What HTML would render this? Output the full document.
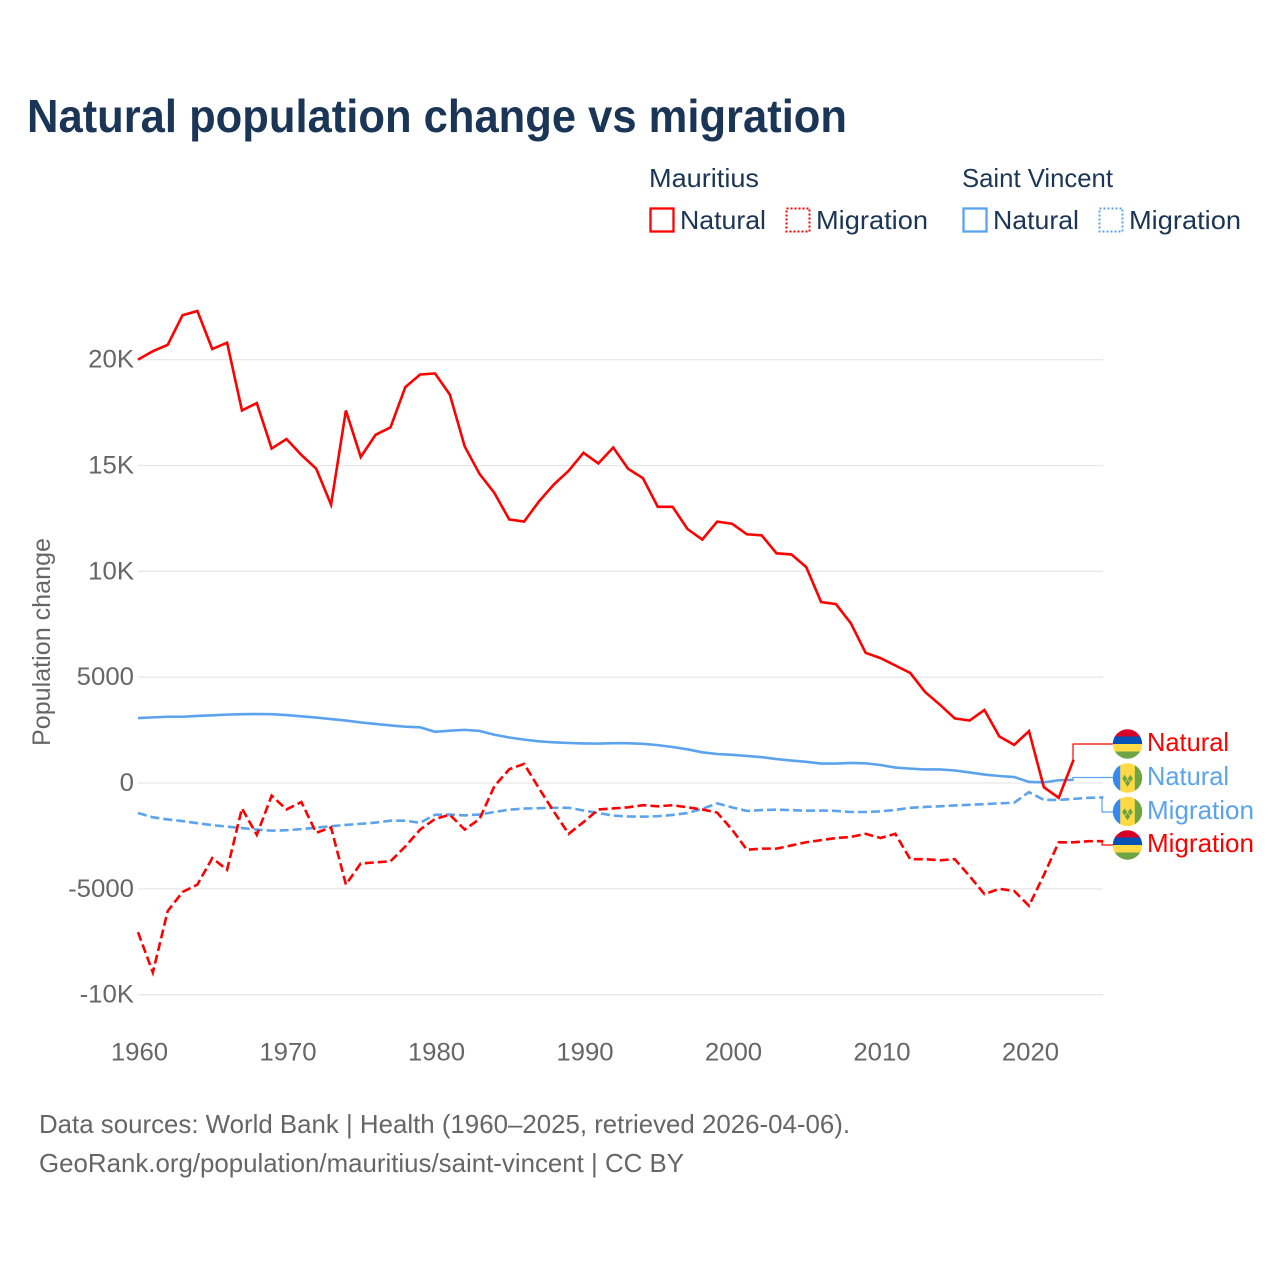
<!DOCTYPE html>
<html lang="en">
<head>
<meta charset="utf-8">
<title>Natural population change vs migration</title>
<style>
html,body{margin:0;padding:0;background:#fff;}
svg{display:block;font-family:"Liberation Sans",sans-serif;}
</style>
</head>
<body>
<svg id="chart" xmlns="http://www.w3.org/2000/svg" width="1280" height="1280" viewBox="0 0 1280 1280">
  <rect x="0" y="0" width="1280" height="1280" fill="#ffffff"/>
  <text x="27" y="132" font-size="46" font-weight="700" fill="#1a3555" textLength="820" lengthAdjust="spacingAndGlyphs">Natural population change vs migration</text>

  <g font-size="26" fill="#1a3555">
    <text x="649" y="187" textLength="110" lengthAdjust="spacingAndGlyphs">Mauritius</text>
    <text x="962" y="187" textLength="151" lengthAdjust="spacingAndGlyphs">Saint Vincent</text>
    <rect x="650.5" y="208.5" width="23" height="23" fill="none" stroke="#ff0000" stroke-width="2.3"/>
    <text x="680" y="229" textLength="86" lengthAdjust="spacingAndGlyphs">Natural</text>
    <rect x="786.5" y="208.5" width="23" height="23" fill="none" stroke="#ff0000" stroke-width="2" stroke-dasharray="2 2"/>
    <text x="816" y="229" textLength="112" lengthAdjust="spacingAndGlyphs">Migration</text>
    <rect x="963.5" y="208.5" width="23" height="23" fill="none" stroke="#5ba3ec" stroke-width="2.3"/>
    <text x="993" y="229" textLength="86" lengthAdjust="spacingAndGlyphs">Natural</text>
    <rect x="1099.5" y="208.5" width="23" height="23" fill="none" stroke="#5ba3ec" stroke-width="2" stroke-dasharray="2 2"/>
    <text x="1129" y="229" textLength="112" lengthAdjust="spacingAndGlyphs">Migration</text>
  </g>

  <g id="grid"></g>
  <g id="yticks"></g>
  <g id="xticks"></g>
  <text transform="translate(50,642) rotate(-90)" text-anchor="middle" font-size="25" fill="#666666" textLength="208" lengthAdjust="spacingAndGlyphs">Population change</text>
  <g id="series"></g>

  <g font-size="26">
    <g transform="translate(1127.5,744)">
      <clipPath id="c1"><circle r="14.7"/></clipPath>
      <g clip-path="url(#c1)"><rect x="-15" y="-15" width="30" height="8" fill="#d80027"/><rect x="-15" y="-7.5" width="30" height="7.8" fill="#0052b4"/><rect x="-15" y="0" width="30" height="7.6" fill="#ffda44"/><rect x="-15" y="7.5" width="30" height="8" fill="#6da544"/></g>
    </g>
    <g transform="translate(1127.5,778)">
      <clipPath id="c2"><circle r="14.7"/></clipPath>
      <g clip-path="url(#c2)"><rect x="-15" y="-15" width="30" height="30" fill="#ffda44"/><rect x="-15" y="-15" width="7.7" height="30" fill="#338af3"/><rect x="7.3" y="-15" width="8" height="30" fill="#6da544"/><path d="M-2.8 -3.3l2.6 3.8-2.6 3.8-2.6-3.8zM2.8 -3.3l2.6 3.8-2.6 3.8-2.6-3.8zM0 1.2l2.6 3.8L0 8.8l-2.6-3.8z" fill="#6da544"/></g>
    </g>
    <g transform="translate(1127.5,811.5)">
      <clipPath id="c3"><circle r="14.7"/></clipPath>
      <g clip-path="url(#c3)"><rect x="-15" y="-15" width="30" height="30" fill="#ffda44"/><rect x="-15" y="-15" width="7.7" height="30" fill="#338af3"/><rect x="7.3" y="-15" width="8" height="30" fill="#6da544"/><path d="M-2.8 -3.3l2.6 3.8-2.6 3.8-2.6-3.8zM2.8 -3.3l2.6 3.8-2.6 3.8-2.6-3.8zM0 1.2l2.6 3.8L0 8.8l-2.6-3.8z" fill="#6da544"/></g>
    </g>
    <g transform="translate(1127.5,845)">
      <clipPath id="c4"><circle r="14.7"/></clipPath>
      <g clip-path="url(#c4)"><rect x="-15" y="-15" width="30" height="8" fill="#d80027"/><rect x="-15" y="-7.5" width="30" height="7.8" fill="#0052b4"/><rect x="-15" y="0" width="30" height="7.6" fill="#ffda44"/><rect x="-15" y="7.5" width="30" height="8" fill="#6da544"/></g>
    </g>
    <text x="1147" y="751" fill="#ff0000" textLength="82" lengthAdjust="spacingAndGlyphs">Natural</text>
    <text x="1147" y="785" fill="#5ba3ec" textLength="82" lengthAdjust="spacingAndGlyphs">Natural</text>
    <text x="1147" y="819" fill="#5ba3ec" textLength="107" lengthAdjust="spacingAndGlyphs">Migration</text>
    <text x="1147" y="852" fill="#ff0000" textLength="107" lengthAdjust="spacingAndGlyphs">Migration</text>
  </g>

  <text x="39" y="1133" font-size="26" fill="#666666" textLength="811" lengthAdjust="spacingAndGlyphs">Data sources: World Bank | Health (1960–2025, retrieved 2026-04-06).</text>
  <text x="39" y="1172" font-size="26" fill="#666666" textLength="645" lengthAdjust="spacingAndGlyphs">GeoRank.org/population/mauritius/saint-vincent | CC BY</text>
</svg>
<script>
const startYear = 1960;
const yTickValues = [20000, 15000, 10000, 5000, 0, -5000, -10000];
const yTickLabels = ["20K", "15K", "10K", "5000", "0", "-5000", "-10K"];
const xTickValues = [1960, 1970, 1980, 1990, 2000, 2010, 2020];
const mauritiusNatural = [20000,20400,20700,22100,22300,20500,20800,17600,17950,15800,16250,15500,14850,13150,17600,15400,16450,16800,18700,19300,19350,18350,15900,14600,13700,12450,12350,13300,14100,14750,15600,15100,15850,14850,14400,13050,13050,12000,11500,12350,12250,11750,11700,10850,10800,10200,8550,8450,7550,6150,5900,5550,5200,4300,3700,3050,2950,3450,2200,1800,2450,-200,-700,1100];
const mauritiusMigration = [-7050,-8950,-6050,-5150,-4800,-3550,-4100,-1200,-2450,-600,-1250,-900,-2350,-2100,-4800,-3800,-3750,-3700,-3000,-2200,-1700,-1500,-2200,-1700,-150,650,900,-250,-1350,-2400,-1850,-1250,-1200,-1150,-1050,-1100,-1050,-1150,-1250,-1400,-2200,-3150,-3100,-3100,-2950,-2800,-2700,-2600,-2550,-2400,-2600,-2400,-3600,-3600,-3650,-3600,-4400,-5250,-5000,-5100,-5800,-4350,-2800,-2800,-2750,-2750];
const saintVincentNatural = [3070,3100,3130,3130,3170,3200,3230,3250,3260,3250,3210,3150,3090,3020,2950,2860,2790,2720,2660,2630,2420,2470,2510,2460,2280,2150,2050,1970,1920,1890,1870,1860,1880,1880,1850,1790,1700,1590,1450,1370,1330,1280,1220,1130,1060,1000,920,920,950,930,850,730,680,640,640,590,500,400,330,280,50,30,130,150];
const saintVincentMigration = [-1420,-1620,-1720,-1800,-1900,-1990,-2060,-2130,-2200,-2250,-2230,-2180,-2110,-2040,-1980,-1930,-1870,-1780,-1780,-1880,-1500,-1490,-1530,-1490,-1370,-1260,-1210,-1190,-1170,-1170,-1300,-1420,-1540,-1580,-1590,-1570,-1510,-1420,-1220,-960,-1150,-1320,-1280,-1260,-1280,-1310,-1300,-1320,-1370,-1370,-1340,-1270,-1170,-1130,-1100,-1060,-1030,-1000,-960,-930,-430,-800,-800,-750,-700,-680];

const NS = "http://www.w3.org/2000/svg";
function xScale(year) { return 138 + (year - 1960) * 14.85; }
function yScale(v) { return 783 - v * 0.021167; }

function makeText(parent, x, y, str, anchor, stretch) {
  const t = document.createElementNS(NS, "text");
  t.setAttribute("x", x);
  t.setAttribute("y", y);
  t.setAttribute("text-anchor", anchor);
  t.setAttribute("font-size", "25");
  t.setAttribute("fill", "#666666");
  t.textContent = str;
  parent.appendChild(t);
  t.setAttribute("textLength", (t.getComputedTextLength() * stretch).toFixed(1));
  t.setAttribute("lengthAdjust", "spacingAndGlyphs");
  return t;
}

const gridGroup = document.getElementById("grid");
const yGroup = document.getElementById("yticks");
yTickValues.forEach(function (v, i) {
  const line = document.createElementNS(NS, "line");
  
  
  line.setAttribute("x1", 138);
  line.setAttribute("x2", 1103);
  line.setAttribute("y1", yScale(v));
  line.setAttribute("y2", yScale(v));
  line.setAttribute("stroke", "#e8e8e8");
  line.setAttribute("stroke-width", "1.3");
  gridGroup.appendChild(line);
  const label = makeText(yGroup, 134, yScale(v) + 8, yTickLabels[i], "end", 1.03);
  
  
});

const xGroup = document.getElementById("xticks");
xTickValues.forEach(function (yr) {
  const label = makeText(xGroup, xScale(yr) + 1.5, 1060.5, String(yr), "middle", 1.03);
  
  
});

function drawSeries(values, color, dashed, name) {
  const pts = values.map(function (v, i) {
    return xScale(startYear + i).toFixed(2) + "," + yScale(v).toFixed(2);
  }).join(" ");
  const line = document.createElementNS(NS, "polyline");
  
  
  line.setAttribute("points", pts);
  line.setAttribute("fill", "none");
  line.setAttribute("stroke", color);
  line.setAttribute("stroke-width", "2.6");
  line.setAttribute("stroke-linejoin", "miter");
  if (dashed) line.setAttribute("stroke-dasharray", "9 4");
  document.getElementById("series").appendChild(line);
}

function drawConnector(values, color, bendX, flagY, name) {
  const last = values.length - 1;
  const x0 = xScale(startYear + last);
  const y0 = yScale(values[last]);
  const path = document.createElementNS(NS, "polyline");
  
  
  path.setAttribute("points", x0 + "," + y0 + " " + bendX + "," + y0 + " " + bendX + "," + flagY + " 1113," + flagY);
  path.setAttribute("fill", "none");
  path.setAttribute("stroke", color);
  path.setAttribute("stroke-width", "1.2");
  document.getElementById("series").appendChild(path);
}

drawConnector(saintVincentNatural, "#5ba3ec", 1073, 777.5, "connector-saint-vincent-natural");
drawConnector(saintVincentMigration, "#5ba3ec", 1102, 812, "connector-saint-vincent-migration");
drawConnector(mauritiusNatural, "#ff0000", 1073, 744, "connector-mauritius-natural");
drawConnector(mauritiusMigration, "#ff0000", 1102, 845, "connector-mauritius-migration");
drawSeries(saintVincentNatural, "#5ba3ec", false, "line-saint-vincent-natural");
drawSeries(saintVincentMigration, "#5ba3ec", true, "line-saint-vincent-migration");
drawSeries(mauritiusNatural, "#ff0000", false, "line-mauritius-natural");
drawSeries(mauritiusMigration, "#ff0000", true, "line-mauritius-migration");
</script>
</body>
</html>
